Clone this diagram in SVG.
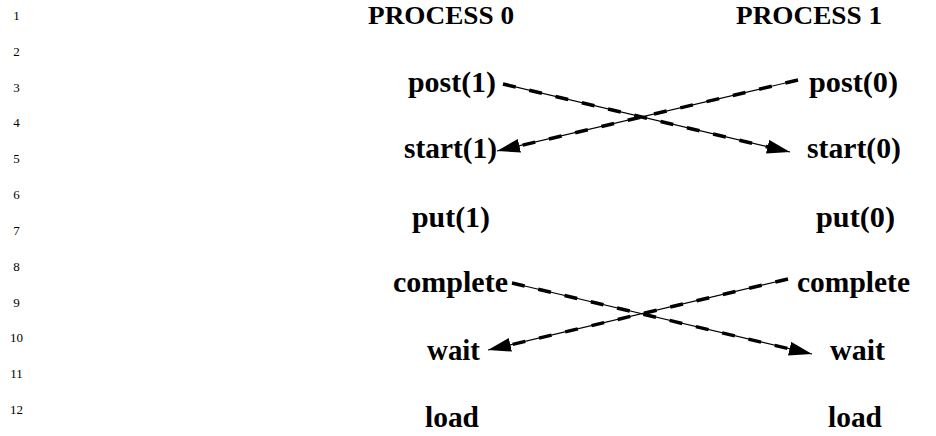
<svg xmlns="http://www.w3.org/2000/svg" width="936" height="436" viewBox="0 0 936 436">
<style>
.ln{font-family:"Liberation Serif","DejaVu Serif",serif;font-size:13px;fill:#000;text-anchor:middle}
.lb{font-family:"Liberation Serif","DejaVu Serif",serif;font-size:29px;font-weight:bold;fill:#000;text-anchor:middle}
.hd{font-size:26px}
.thin{stroke:#000;stroke-width:1.2;fill:none}
.dash{stroke:#000;stroke-width:3.5;fill:none;stroke-dasharray:13 14}
</style>
<defs>
<marker id="ah" markerUnits="userSpaceOnUse" markerWidth="24" markerHeight="15" refX="23" refY="7" orient="auto" viewBox="0 0 24 15">
<path d="M0,0 L23,7 L0,14 z" fill="#000"/>
</marker>
</defs>
<rect width="936" height="436" fill="#fff"/>
<g id="line-numbers">
<text class="ln" x="16.5" y="20">1</text>
<text class="ln" x="16.5" y="56">2</text>
<text class="ln" x="16.5" y="92">3</text>
<text class="ln" x="16.5" y="127">4</text>
<text class="ln" x="16.5" y="163">5</text>
<text class="ln" x="16.5" y="199">6</text>
<text class="ln" x="16.5" y="235">7</text>
<text class="ln" x="16.5" y="271">8</text>
<text class="ln" x="16.5" y="307">9</text>
<text class="ln" x="16.5" y="342">10</text>
<text class="ln" x="16.5" y="378">11</text>
<text class="ln" x="16.5" y="414">12</text>
</g>
<g id="process0"><text class="lb hd" x="441" y="24" textLength="146" lengthAdjust="spacingAndGlyphs">PROCESS 0</text></g>
<g id="process1"><text class="lb hd" x="809" y="24" textLength="146" lengthAdjust="spacingAndGlyphs">PROCESS 1</text></g>
<g id="post1"><text class="lb" x="452" y="92" textLength="88" lengthAdjust="spacingAndGlyphs">post(1)</text></g>
<g id="post0"><text class="lb" x="853.5" y="92" textLength="89" lengthAdjust="spacingAndGlyphs">post(0)</text></g>
<g id="start1"><text class="lb" x="450.5" y="158" textLength="93" lengthAdjust="spacingAndGlyphs">start(1)</text></g>
<g id="start0"><text class="lb" x="854" y="158" textLength="94" lengthAdjust="spacingAndGlyphs">start(0)</text></g>
<g id="put1"><text class="lb" x="451" y="227" textLength="78" lengthAdjust="spacingAndGlyphs">put(1)</text></g>
<g id="put0"><text class="lb" x="855.5" y="227" textLength="79" lengthAdjust="spacingAndGlyphs">put(0)</text></g>
<g id="complete0"><text class="lb" x="450.5" y="292" textLength="115" lengthAdjust="spacingAndGlyphs">complete</text></g>
<g id="complete1"><text class="lb" x="853.5" y="292" textLength="113" lengthAdjust="spacingAndGlyphs">complete</text></g>
<g id="wait0"><text class="lb" x="453.5" y="360" textLength="53" lengthAdjust="spacingAndGlyphs">wait</text></g>
<g id="wait1"><text class="lb" x="857.5" y="360" textLength="55" lengthAdjust="spacingAndGlyphs">wait</text></g>
<g id="load0"><text class="lb" x="452" y="427" textLength="54" lengthAdjust="spacingAndGlyphs">load</text></g>
<g id="load1"><text class="lb" x="855" y="427" textLength="54" lengthAdjust="spacingAndGlyphs">load</text></g>
<g id="connectors">
<line class="thin" x1="503" y1="84" x2="790" y2="152" marker-end="url(#ah)"/>
<line class="dash" x1="503" y1="84" x2="768" y2="147"/>
<line class="thin" x1="798" y1="80" x2="497" y2="151" marker-end="url(#ah)"/>
<line class="dash" x1="798" y1="80" x2="519" y2="146"/>
<line class="thin" x1="512" y1="283" x2="812" y2="354" marker-end="url(#ah)"/>
<line class="dash" x1="512" y1="283" x2="790" y2="349"/>
<line class="thin" x1="788" y1="279" x2="488" y2="350" marker-end="url(#ah)"/>
<line class="dash" x1="788" y1="279" x2="510" y2="345"/>
</g>
</svg>
